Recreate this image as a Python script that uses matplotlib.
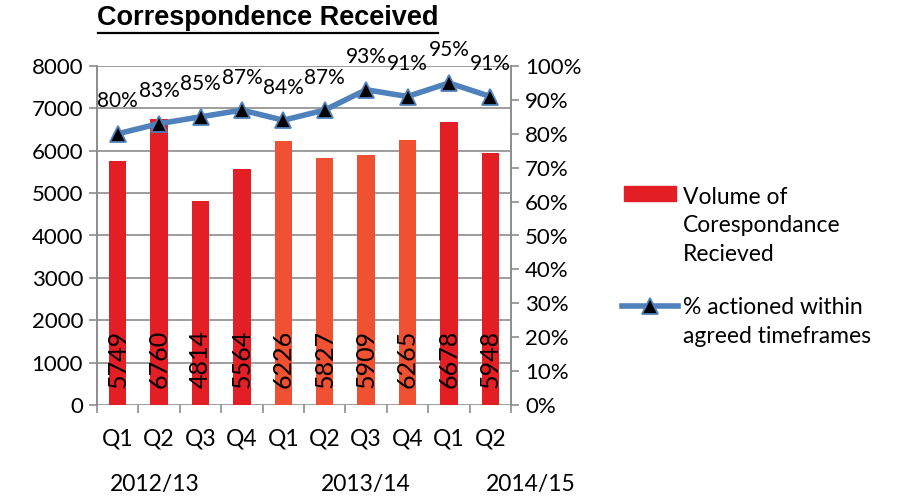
import matplotlib as mpl
import matplotlib.pyplot as plt
from matplotlib.lines import Line2D
from matplotlib.patches import Rectangle
import numpy as np

mpl.rcParams["font.family"] = ["Lato", "DejaVu Sans"]

quarters = ["Q1", "Q2", "Q3", "Q4", "Q1", "Q2", "Q3", "Q4", "Q1", "Q2"]
years = ["2012/13", "2013/14", "2014/15"]
year_pos = [0.9, 6.0, 9.98]
volume = [5749, 6760, 4814, 5564, 6226, 5827, 5909, 6265, 6678, 5948]
pct = [80, 83, 85, 87, 84, 87, 93, 91, 95, 91]
year_of_bar = [0, 0, 0, 0, 1, 1, 1, 1, 2, 2]

red = "#E31E24"
orange = "#F05133"
blue = "#4F81BD"
grey = "#8C8C8C"
bar_colors = [orange if y == 1 else red for y in year_of_bar]

W, H = 903, 498
fig = plt.figure(figsize=(W / 100, H / 100), dpi=100)
ax = fig.add_axes([97 / W, 1 - 405 / H, 414 / W, 339 / H])
ax2 = ax.twinx()

x = np.arange(len(volume))
ax.bar(x, volume, width=0.42, color=bar_colors, zorder=3)
for xi, v in zip(x, volume):
    ax.text(xi, 390, f"{v}", rotation=90, ha="center", va="bottom", fontsize=18, zorder=4)

ax.set_ylim(0, 8000)
ax.set_xlim(-0.5, len(volume) - 0.5)
ax.set_yticks(np.arange(0, 8001, 1000))
ax.yaxis.grid(True, color=grey, linewidth=1.2, zorder=0)
ax.tick_params(axis="y", labelsize=16, length=6, color=grey, width=1.2, pad=4)
ax.set_xticks(np.arange(-0.5, len(volume), 1.0))
ax.set_xticklabels([])
ax.tick_params(axis="x", length=6, color=grey, width=1.2)
for xi, q in zip(x, quarters):
    ax.text(xi, -0.1, q, transform=ax.get_xaxis_transform(), ha="center", va="center", fontsize=16.5)
for xp, yr in zip(year_pos, years):
    ax.text(xp, -0.235, yr, transform=ax.get_xaxis_transform(), ha="center", va="center", fontsize=16.5)

ax2.plot(x, pct, color=blue, linewidth=4, marker="^", markersize=11,
         markerfacecolor="black", markeredgecolor=blue, markeredgewidth=1.3, zorder=5)
for xi, p in zip(x, pct):
    ax2.text(xi, p + 9.6, f"{p}%", ha="center", va="center", fontsize=15)
ax2.set_ylim(0, 100)
ax2.set_yticks(np.arange(0, 101, 10))
ax2.set_yticklabels([f"{t}%" for t in range(0, 101, 10)])
ax2.tick_params(axis="y", labelsize=16, length=6, color=grey, width=1.2, pad=4)
ax2.set_zorder(ax.get_zorder() + 1)
ax2.patch.set_visible(False)

for a in (ax, ax2):
    for s in ("top", "bottom"):
        a.spines[s].set_visible(False)
    for s in ("left", "right"):
        a.spines[s].set_color(grey)
        a.spines[s].set_linewidth(1.2)

# title, underlined
fig.text(268 / W, 1 - 18 / H, "Correspondence Received", ha="center", va="center",
         fontsize=19.5, fontweight="bold", family="Liberation Sans")
fig.add_artist(Line2D([98 / W, 438 / W], [1 - 33 / H, 1 - 33 / H], color="black", linewidth=1.6))

# legend drawn by hand, Excel style
fig.add_artist(Rectangle((624 / W, 1 - 201 / H), 52 / W, 15 / H, color=red))
fig.text(683 / W, 1 - 193 / H, "Volume of\nCorespondance\nRecieved", ha="left", va="top",
         fontsize=16.5, linespacing=1.45, transform=fig.transFigure)
fig.texts[-1].set_va("center")
fig.texts[-1].set_position((683 / W, 1 - 226 / H))
fig.add_artist(Line2D([622 / W, 678 / W], [1 - 306 / H, 1 - 306 / H], color=blue, linewidth=4))
fig.add_artist(Line2D([650 / W], [1 - 306 / H], marker="^", markersize=11, markerfacecolor="black",
                      markeredgecolor=blue, markeredgewidth=1.3, linestyle="none"))
fig.text(683 / W, 1 - 322 / H, "% actioned within\nagreed timeframes", ha="left", va="center",
         fontsize=16.5, linespacing=1.45)

fig.savefig("out.png", dpi=100)
